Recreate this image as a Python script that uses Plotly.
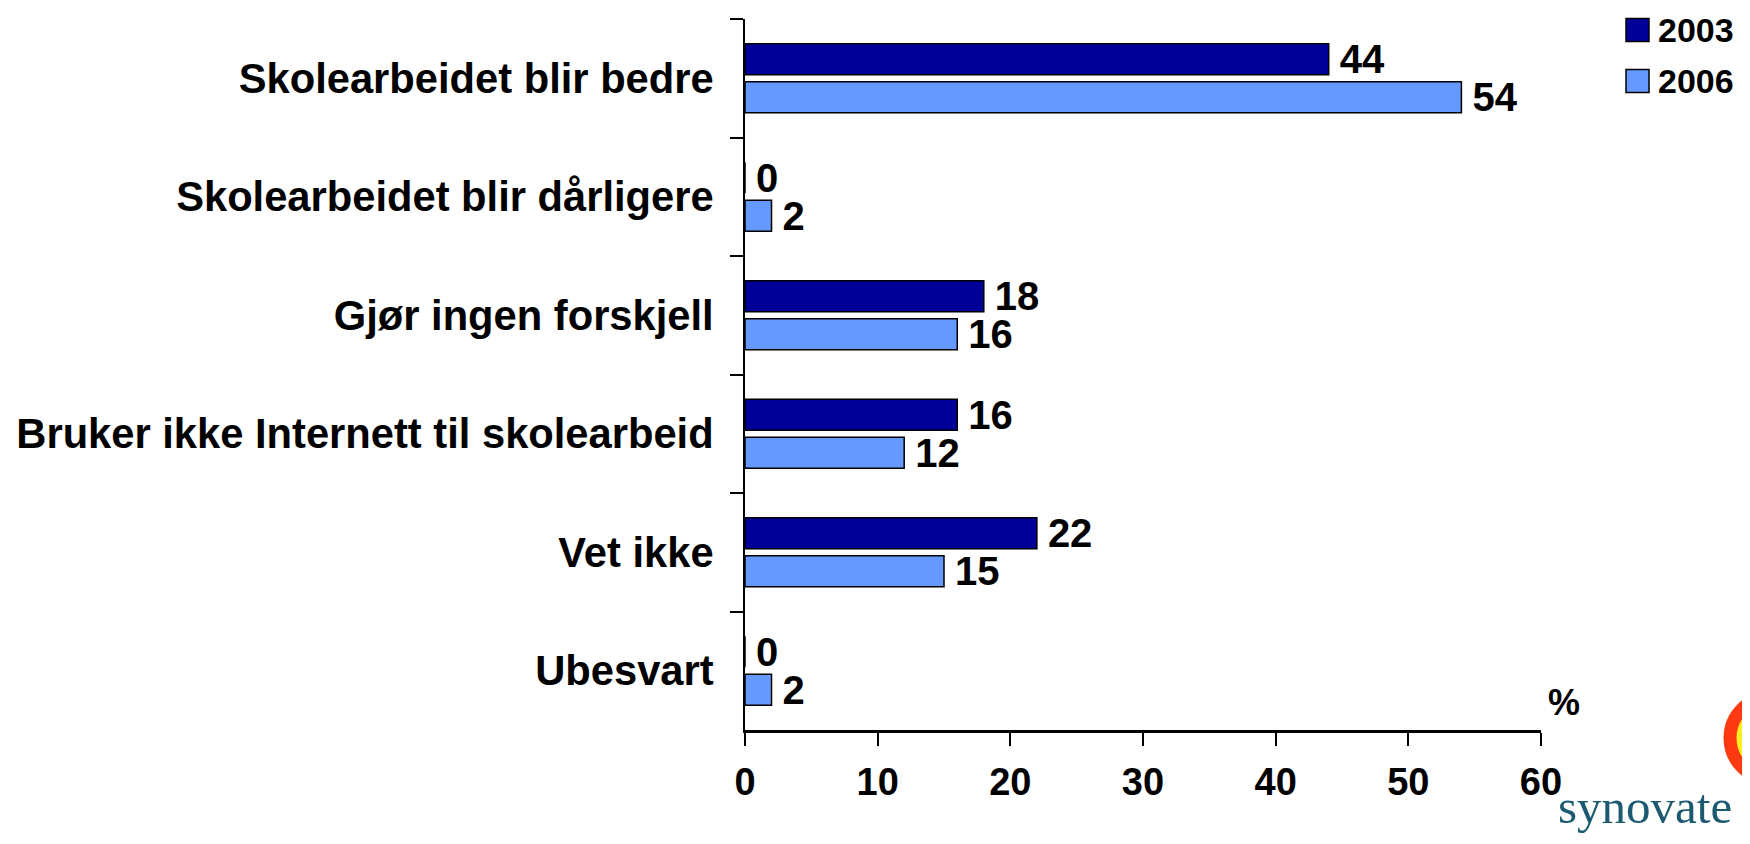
import plotly.graph_objects as go

categories = [
    "Skolearbeidet blir bedre",
    "Skolearbeidet blir dårligere",
    "Gjør ingen forskjell",
    "Bruker ikke Internett til skolearbeid",
    "Vet ikke",
    "Ubesvart",
]
values_2003 = [44, 0, 18, 16, 22, 0]
values_2006 = [54, 2, 16, 12, 15, 2]
series_names = ["2003", "2006"]
series_colors = ["#000099", "#6699FF"]
x_ticks = [0, 10, 20, 30, 40, 50, 60]

OFF = 8  # default body margin of the html page
W, H = 1750 - OFF, 844 - 2 * OFF  # keep page free of scrollbars
# plot area in page pixels
L, R, T, B = 745, 1541, 19, 730


def px(x):
    return (x - L) / (R - L)


def py(y):
    return 1 - (y - T) / (B - T)


FONT = "Arial, 'Liberation Sans', sans-serif"

fig = go.Figure()
for name, vals, col in zip(series_names, [values_2003, values_2006], series_colors):
    fig.add_trace(go.Bar(
        y=categories, x=vals, name=name, orientation="h",
        marker=dict(color=col, line=dict(color="black", width=1.5)),
        texttemplate="\u2009%{x}", textposition="outside",
        textfont=dict(family=FONT, size=40, color="black", weight="bold"),
        constraintext="none", cliponaxis=False, showlegend=False,
    ))

fig.update_layout(
    width=W, height=H,
    margin=dict(l=L - OFF, r=W - (R - OFF), t=T - OFF, b=H - (B - OFF), pad=0,
                autoexpand=False),
    plot_bgcolor="white", paper_bgcolor="white",
    barmode="group", bargap=0.36, bargroupgap=0.18,
    font=dict(family=FONT, color="black"),
    showlegend=False,
)
fig.update_xaxes(
    automargin=False,
    range=[0, 60], tickvals=x_ticks, ticktext=[str(v) for v in x_ticks],
    showgrid=False, zeroline=False, showline=True, linecolor="black", linewidth=2.5,
    ticks="outside", ticklen=13, tickwidth=2, tickcolor="black",
    tickfont=dict(family=FONT, size=38, color="black", weight="bold"),
    ticklabelstandoff=4,
)
fig.update_yaxes(
    automargin=False,
    type="category", categoryorder="array", categoryarray=categories,
    range=[5.5, -0.5],
    showgrid=False, zeroline=False, showline=True, linecolor="black", linewidth=2,
    ticks="outside", ticklen=13, tickwidth=2, tickcolor="black", tickson="boundaries",
    tickfont=dict(family=FONT, size=41.7, color="black", weight="bold"),
    ticklabelstandoff=21,
)

annotations = []
shapes = []
# manual legend
leg_y = [30, 81]
for name, col, yc in zip(series_names, series_colors, leg_y):
    shapes.append(dict(type="rect", xref="paper", yref="paper",
                       x0=px(1626), x1=px(1649), y0=py(yc - 11.5), y1=py(yc + 11.5),
                       fillcolor=col, line=dict(color="black", width=1.5)))
    annotations.append(dict(text=name, xref="paper", yref="paper", x=px(1657), y=py(yc),
                            xanchor="left", yanchor="middle", showarrow=False, borderpad=0,
                            font=dict(family=FONT, size=34, color="black", weight="bold")))

# percent sign
annotations.append(dict(text="%", xref="paper", yref="paper", x=px(1564), y=py(702),
                        xanchor="center", yanchor="middle", showarrow=False,
                        font=dict(family=FONT, size=36, color="black", weight="bold")))

# synovate logo (approximation)
shapes.append(dict(type="circle", xref="paper", yref="paper",
                   x0=px(1730), x1=px(1812), y0=py(779), y1=py(697),
                   fillcolor="#FFEE22", line=dict(color="#FF3A10", width=13)))
annotations.append(dict(text="synovate", xref="paper", yref="paper", x=px(1556), y=py(836),
                        xanchor="left", yanchor="bottom", showarrow=False,
                        font=dict(family="'Liberation Serif', 'Times New Roman', serif",
                                  size=49, color="#1B5A70")))

fig.update_layout(annotations=annotations, shapes=shapes)
fig.write_html("out.html")
